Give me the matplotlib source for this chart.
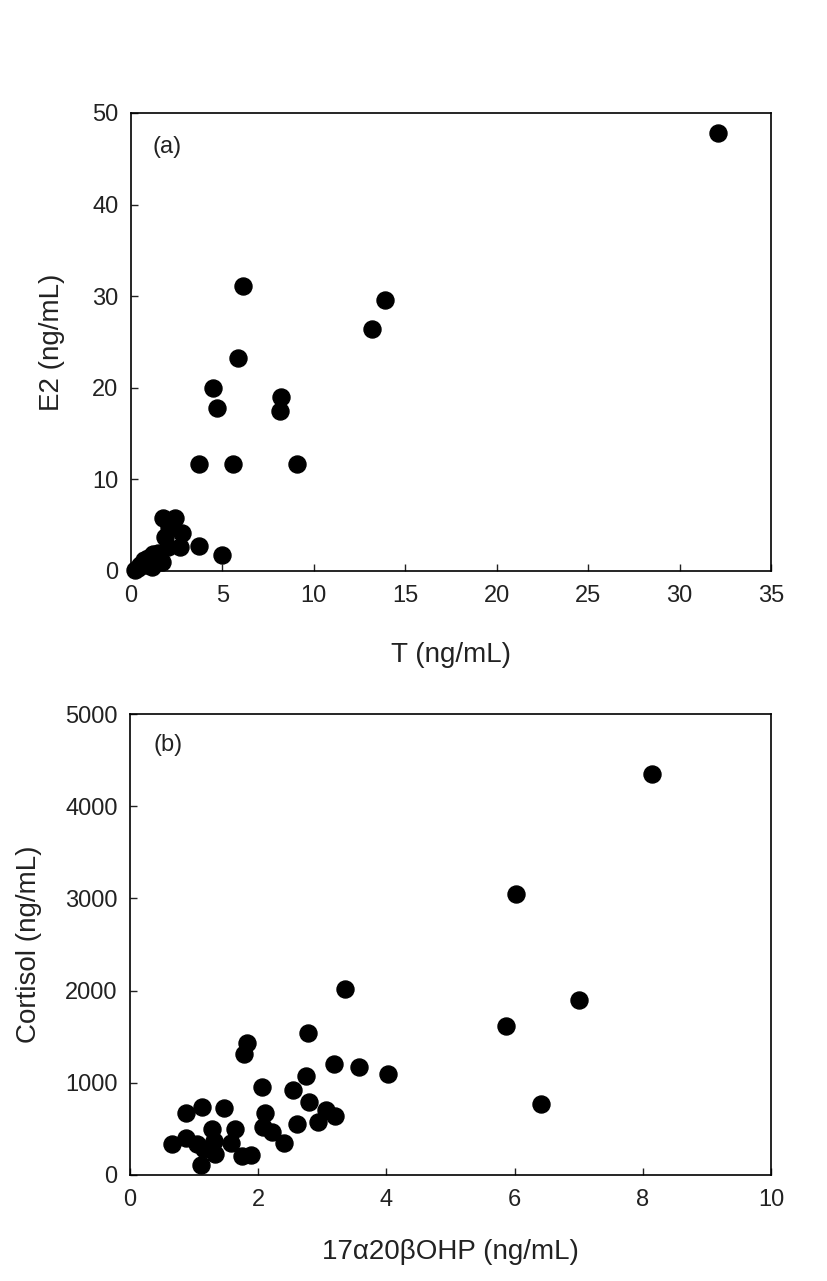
import numpy as np
import matplotlib.pyplot as plt

plt.rcParams['font.family'] = ['Liberation Sans', 'DejaVu Sans']

# panel (a): T vs E2 (ng/mL)
t_vals = [32.1, 6.1, 13.9, 13.2, 5.85, 4.5, 4.7, 8.2, 8.15, 3.7, 5.6, 9.1,
          3.7, 5.0, 1.75, 2.4, 2.8, 2.7, 1.85, 2.1, 2.0, 1.5, 0.93, 0.5,
          0.2, 1.15, 1.7, 1.3, 0.7, 0.4, 0.8, 1.2]
e2_vals = [47.8, 31.1, 29.6, 26.4, 23.2, 20.0, 17.8, 19.0, 17.5, 11.7, 11.7, 11.7,
           2.7, 1.7, 5.8, 5.8, 4.1, 2.6, 3.7, 4.8, 2.6, 2.0, 1.4, 0.65,
           0.1, 0.45, 1.0, 1.6, 1.2, 0.3, 0.6, 1.9]

# panel (b): 17a20bOHP vs cortisol (ng/mL)
ohp_vals = [8.14, 6.02, 7.0, 5.86, 6.41, 3.36, 2.77, 1.83, 1.78, 3.18, 3.58, 4.03,
            2.74, 2.06, 2.55, 2.79, 0.87, 1.13, 1.46, 2.11, 2.08, 2.22, 2.61, 3.06,
            3.20, 2.94, 2.40, 0.66, 0.87, 1.05, 1.28, 1.31, 1.10, 1.33, 1.64, 1.57,
            1.75, 1.88, 1.15]
cort_vals = [4344, 3051, 1901, 1616, 773, 2020, 1537, 1427, 1310, 1205, 1175, 1098,
             1069, 950, 916, 795, 667, 733, 726, 670, 520, 470, 551, 700,
             642, 575, 345, 339, 404, 332, 496, 368, 110, 222, 496, 350,
             210, 220, 277]

fig = plt.figure(figsize=(8.27, 12.81), dpi=100)
ax1 = fig.add_axes([0.1584, 0.5543, 0.7739, 0.3575])
ax2 = fig.add_axes([0.1572, 0.0828, 0.7751, 0.3598])

ax1.scatter(t_vals, e2_vals, s=150, c='black', edgecolors='black', zorder=3, clip_on=False)
ax2.scatter(ohp_vals, cort_vals, s=150, c='black', edgecolors='black', zorder=3, clip_on=False)

ax1.set_xlim(0, 35)
ax1.set_ylim(0, 50)
ax1.set_xticks(np.arange(0, 36, 5))
ax1.set_yticks(np.arange(0, 51, 10))
ax2.set_xlim(0, 10)
ax2.set_ylim(0, 5000)
ax2.set_xticks(np.arange(0, 11, 2))
ax2.set_yticks(np.arange(0, 5001, 1000))

for ax in (ax1, ax2):
    for sp in ax.spines.values():
        sp.set_linewidth(1.2)
    ax.tick_params(axis='both', direction='in', length=5, width=1.0,
                   labelsize=17, colors='#222222')
    ax.tick_params(axis='x', pad=10)
    ax.tick_params(axis='y', pad=9)

ax1.set_xlabel('T (ng/mL)', fontsize=20, color='#222222')
ax1.set_ylabel('E2 (ng/mL)', fontsize=20, color='#222222')
ax1.xaxis.set_label_coords(0.5, -0.155)
ax1.yaxis.set_label_coords(-0.103, 0.5)
ax1.text(0.033, 0.926, '(a)', transform=ax1.transAxes, fontsize=17,
         va='center', ha='left', color='#222222')

ax2.set_xlabel('17\u03b120\u03b2OHP (ng/mL)', fontsize=20, color='#222222')
ax2.set_ylabel('Cortisol (ng/mL)', fontsize=20, color='#222222')
ax2.xaxis.set_label_coords(0.5, -0.14)
ax2.yaxis.set_label_coords(-0.137, 0.5)
ax2.text(0.037, 0.933, '(b)', transform=ax2.transAxes, fontsize=17,
         va='center', ha='left', color='#222222')

fig.savefig('out.png', dpi=100)
